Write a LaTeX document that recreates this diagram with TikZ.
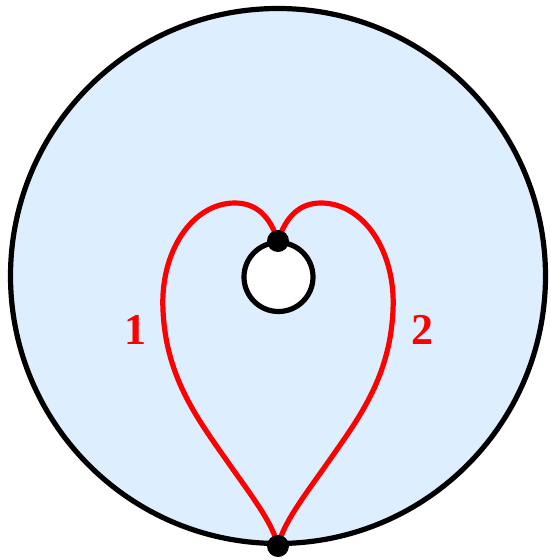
\documentclass[tikz,border=0pt]{standalone}
\usepackage{fontspec}
\setmainfont{Liberation Serif}
\definecolor{bgblue}{RGB}{221,238,255}
\definecolor{cred}{RGB}{255,0,0}
\begin{document}
\begin{tikzpicture}[x=1pt,y=-1pt,
  outer/.style={circle,draw=black,line width=5.2pt,fill=bgblue,minimum size=535pt,inner sep=0pt},
  hole/.style={circle,draw=black,line width=5.2pt,fill=white,minimum size=69pt,inner sep=0pt},
  pathred/.style={draw=cred,line width=5.2pt},
  dotnode/.style={circle,fill=black,minimum size=22pt,inner sep=0pt},
  lbl/.style={text=cred,font=\fontsize{44}{46}\selectfont\bfseries,inner sep=0pt}]
\useasboundingbox (0,0) rectangle (550,560);
\node[outer] (big) at (278,276) {};
\node[hole] (small) at (278.5,277) {};
\coordinate (top) at (278,241);
\coordinate (bot) at (278,546);
\coordinate (pl) at (235,203);
\coordinate (ml) at (163,310);
\coordinate (ll) at (232,468);
\coordinate (pr) at (321,203);
\coordinate (mr) at (393,310);
\coordinate (lr) at (324,468);
\draw[pathred] (top) .. controls (270,216) and (256,203) .. (pl)
  .. controls (192,203) and (160,252) .. (ml)
  .. controls (166,380) and (200,422) .. (ll)
  .. controls (257,503) and (273,525) .. (bot);
\draw[pathred] (top) .. controls (286,216) and (300,203) .. (pr)
  .. controls (364,203) and (396,252) .. (mr)
  .. controls (390,380) and (356,422) .. (lr)
  .. controls (299,503) and (283,525) .. (bot);
\node[dotnode] (dtop) at (top) {};
\node[dotnode] (dbot) at (bot) {};
\node[lbl] (l1) at (135,330) {1};
\node[lbl] (l2) at (422,330) {2};
\end{tikzpicture}
\end{document}
